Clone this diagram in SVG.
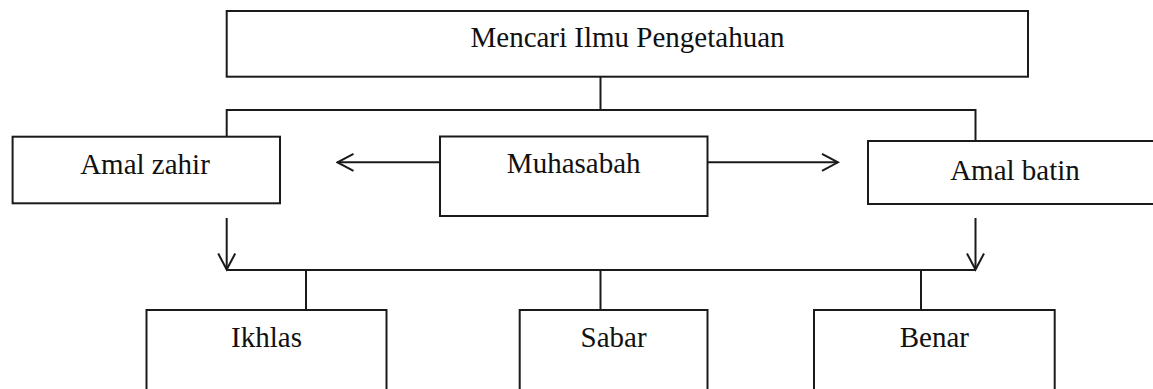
<svg xmlns="http://www.w3.org/2000/svg" width="1153" height="389" viewBox="0 0 1153 389">
<style>
.box{fill:#fff;stroke:#1a1a1a;stroke-width:2}
.ln{fill:none;stroke:#1a1a1a;stroke-width:2}
.t{font-family:"Liberation Serif","Times New Roman",serif;font-size:29px;fill:#111;text-anchor:middle}
</style>
<defs>
<marker id="arr" markerUnits="userSpaceOnUse" markerWidth="20" markerHeight="20" viewBox="-18 -10 20 20" refX="0" refY="0" orient="auto">
<polyline points="-16,-8.5 0,0 -16,8.5" fill="none" stroke="#1a1a1a" stroke-width="2"/>
</marker>
</defs>
<rect width="1153" height="389" fill="#fff"/>
<g id="connectors">
<path class="ln" d="M600.5,77 V110"/>
<path class="ln" d="M226.7,136.7 V110 H975.5 V141"/>
<path class="ln" d="M440,162.3 H337.5" marker-end="url(#arr)"/>
<path class="ln" d="M707.5,162.3 H838" marker-end="url(#arr)"/>
<path class="ln" d="M226.7,218 V269.5" marker-end="url(#arr)"/>
<path class="ln" d="M975.5,218 V269.5" marker-end="url(#arr)"/>
<path class="ln" d="M226.7,270 H975.5"/>
<path class="ln" d="M306,270 V310"/>
<path class="ln" d="M600.5,270 V310"/>
<path class="ln" d="M921,270 V310"/>
</g>
<g id="node-mencari">
<rect class="box" x="226.7" y="11" width="801.3" height="65.7"/>
<text class="t" x="627.5" y="46.7">Mencari Ilmu Pengetahuan</text>
</g>
<g id="node-amal-zahir">
<rect class="box" x="12.6" y="136.7" width="267.4" height="66.6"/>
<text class="t" x="145" y="173.5">Amal zahir</text>
</g>
<g id="node-muhasabah">
<rect class="box" x="440" y="136.5" width="267.5" height="79.5"/>
<text class="t" x="573.7" y="173">Muhasabah</text>
</g>
<g id="node-amal-batin">
<rect class="box" x="868" y="141" width="294" height="63"/>
<text class="t" x="1015" y="179.5">Amal batin</text>
</g>
<g id="node-ikhlas">
<rect class="box" x="146.5" y="310" width="240" height="100"/>
<text class="t" x="266.5" y="346.7">Ikhlas</text>
</g>
<g id="node-sabar">
<rect class="box" x="519.7" y="310" width="187.8" height="100"/>
<text class="t" x="613.6" y="346.7">Sabar</text>
</g>
<g id="node-benar">
<rect class="box" x="814" y="310" width="240.7" height="100"/>
<text class="t" x="934.4" y="346.7">Benar</text>
</g>
</svg>
